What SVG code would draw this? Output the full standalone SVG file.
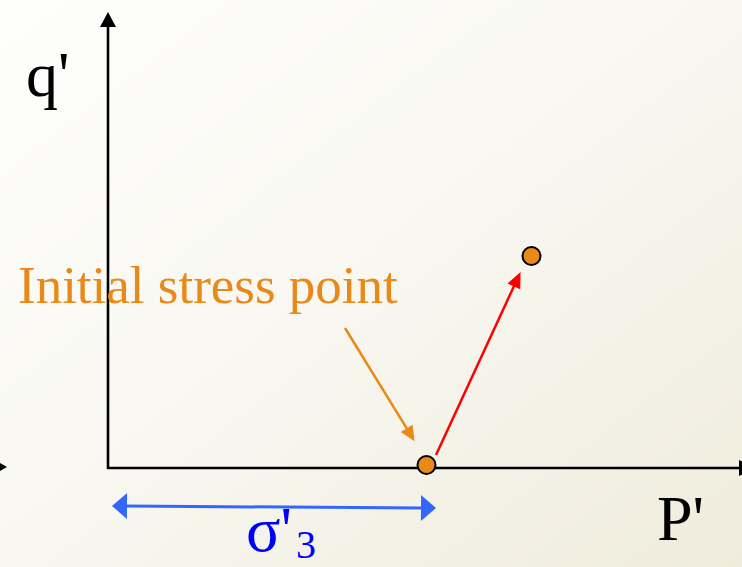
<svg xmlns="http://www.w3.org/2000/svg" width="742" height="567" viewBox="0 0 742 567">
  <defs>
    <linearGradient id="bg" x1="0" y1="0" x2="1" y2="1">
      <stop offset="0" stop-color="#fefefd"/>
      <stop offset="0.5" stop-color="#f8f7f0"/>
      <stop offset="1" stop-color="#efecdc"/>
    </linearGradient>
    <marker id="ahBlack" markerUnits="userSpaceOnUse" markerWidth="17" markerHeight="18" refX="1" refY="8" orient="auto" overflow="visible">
      <path d="M0,0 L15,8 L0,16 Z" fill="#000"/>
    </marker>
    <marker id="ahBlue" markerUnits="userSpaceOnUse" markerWidth="17" markerHeight="28" refX="1" refY="13" orient="auto-start-reverse" overflow="visible">
      <path d="M0,0 L15,13 L0,26 Z" fill="#3366ff"/>
    </marker>
    <marker id="ahRed" markerUnits="userSpaceOnUse" markerWidth="18" markerHeight="16" refX="1" refY="7" orient="auto" overflow="visible">
      <path d="M0,0 L16,7 L0,14 Z" fill="#ff0000"/>
    </marker>
    <marker id="ahOrange" markerUnits="userSpaceOnUse" markerWidth="17" markerHeight="16" refX="1" refY="7" orient="auto" overflow="visible">
      <path d="M0,0 L15,7 L0,14 Z" fill="#e8891a"/>
    </marker>
  </defs>
  <style>
    .axis { stroke: #000; stroke-width: 2.6; fill: none; }
    .lbl { font-family: "Liberation Serif", "Times New Roman", serif; }
    .pt { fill: #e8891a; stroke: #000; stroke-width: 2; }
  </style>

  <rect x="0" y="0" width="742" height="567" fill="url(#bg)"/>

  <g id="connectors">
    <line class="axis" x1="108" y1="469" x2="108" y2="26" marker-end="url(#ahBlack)"/>
    <line class="axis" x1="107" y1="468" x2="740" y2="468" marker-end="url(#ahBlack)"/>
    <path d="M0,463 L7,467 L0,471 Z" fill="#000"/>
    <line x1="126" y1="506" x2="422" y2="508" stroke="#3366ff" stroke-width="3" marker-start="url(#ahBlue)" marker-end="url(#ahBlue)"/>
    <line x1="436" y1="455" x2="514.3" y2="285.5" stroke="#ff0000" stroke-width="2.5" marker-end="url(#ahRed)"/>
    <line x1="345" y1="328" x2="407.2" y2="429.2" stroke="#e8891a" stroke-width="2.5" marker-end="url(#ahOrange)"/>
  </g>

  <g id="initial-point">
    <circle class="pt" cx="426.5" cy="465" r="9"/>
  </g>
  <g id="final-point">
    <circle class="pt" cx="531.5" cy="256" r="9"/>
  </g>

  <g id="label-q">
    <text class="lbl" x="26" y="96" font-size="64" fill="#000">q'</text>
  </g>
  <g id="label-p">
    <text class="lbl" x="657" y="540" font-size="64" fill="#000">P'</text>
  </g>
  <g id="label-initial">
    <text class="lbl" x="18" y="303" font-size="53" fill="#e8891a">Initial stress point</text>
  </g>
  <g id="label-sigma">
    <text class="lbl" x="246" y="551" font-size="64" fill="#0000ff">σ'</text>
    <text class="lbl" x="296" y="558" font-size="40" fill="#0000ff">3</text>
  </g>
</svg>
